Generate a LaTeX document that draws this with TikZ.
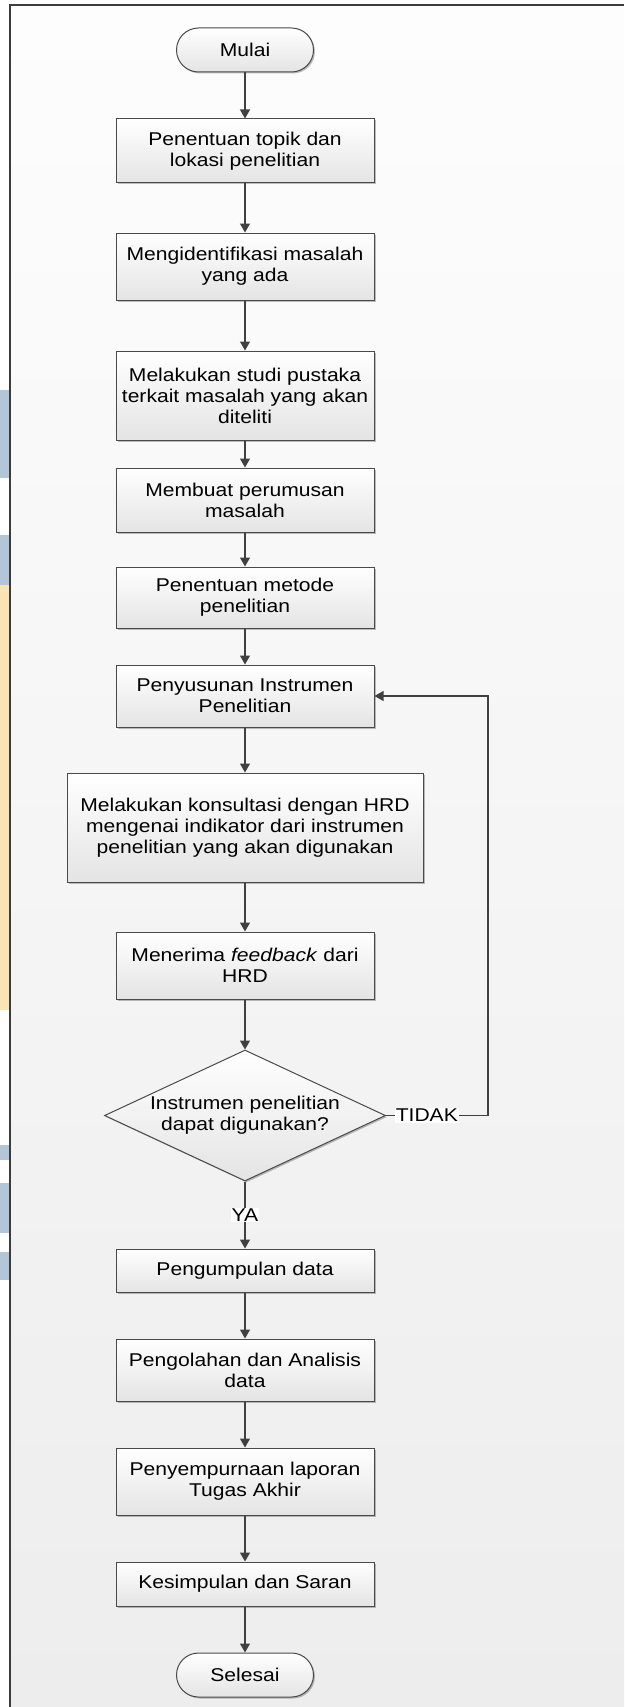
\documentclass[tikz,border=0pt]{standalone}
\usepackage{fontspec}
\setmainfont{Liberation Sans}[FakeStretch=1.14]
\usetikzlibrary{arrows.meta,shapes.geometric,shadows}
\definecolor{linec}{HTML}{404040}
\definecolor{boxline}{HTML}{4A4A4A}
\definecolor{boxbot}{HTML}{E4E4E4}
\definecolor{bgtop}{HTML}{FDFDFD}
\definecolor{bgbot}{HTML}{EDEDED}
\definecolor{framec}{HTML}{3C3C3C}
\definecolor{wmblue}{HTML}{B3C6D8}
\definecolor{wmyellow}{HTML}{FBE4B4}
\begin{document}
\begin{tikzpicture}[x=1pt,y=-1pt,
  every node/.style={font=\fontsize{18.5}{21}\selectfont},
  shadowed/.style={drop shadow={shadow xshift=1.5pt,shadow yshift=-1.5pt,opacity=0.25,fill=black}},
  box/.style={draw=boxline, line width=1pt, top color=white, bottom color=boxbot,
    minimum width=258pt, align=center, inner xsep=2pt, inner ysep=2pt, shadowed},
  term/.style={box, rounded corners=22pt, minimum width=137pt, minimum height=44pt},
  dec/.style={diamond, draw=boxline, line width=1pt, top color=white, bottom color=boxbot,
    minimum width=281pt, minimum height=131pt, inner sep=0pt, shadowed},
  arr/.style={draw=linec, line width=1.2pt, -{Triangle[length=9pt,width=10pt]}},
  lbl/.style={fill=white, inner sep=1pt}
]
\useasboundingbox (0,0) rectangle (624,1707);
% page background
\fill[white] (0,0) rectangle (624,1707);
\fill[top color=bgtop, bottom color=bgbot] (10,5) rectangle (624,1707);
% faint watermark strips at the left edge
\fill[wmblue] (0,390) rectangle (9,478);
\fill[wmblue] (0,535) rectangle (9,585);
\fill[wmyellow] (0,585) rectangle (9,1010);
\fill[wmblue] (0,1145) rectangle (9,1160);
\fill[wmblue] (0,1183) rectangle (9,1233);
\fill[wmblue] (0,1252) rectangle (9,1280);
% frame
\draw[framec, line width=2pt] (10,1707) -- (10,5) -- (624,5);

% nodes
\node[term] (start) at (245,50) {Mulai};
\node[box, minimum height=64pt] (b1) at (245,151) {Penentuan topik dan\\lokasi penelitian};
\node[box, minimum height=67pt] (b2) at (245,266.5) {Mengidentifikasi masalah\\yang ada};
\node[box, minimum height=89pt] (b3) at (245,395.5) {Melakukan studi pustaka\\terkait masalah yang akan\\diteliti};
\node[box, minimum height=64pt] (b4) at (245,500) {Membuat perumusan\\masalah};
\node[box, minimum height=61pt] (b5) at (245,597.5) {Penentuan metode\\penelitian};
\node[box, minimum height=62pt] (b6) at (245,696) {Penyusunan Instrumen\\Penelitian};
\node[box, minimum width=356pt, minimum height=109pt] (b7) at (245,827.5) {Melakukan konsultasi dengan HRD\\mengenai indikator dari instrumen\\penelitian yang akan digunakan};
\node[box, minimum height=67pt] (b8) at (245,965.5) {Menerima \textit{feedback} dari\\HRD};
\node[dec] (d) at (245,1115.5) {\smash{\raisebox{-4.6pt}{\makebox[0pt]{\begin{tabular}{@{}c@{}}Instrumen penelitian\\dapat digunakan?\end{tabular}}}}};
\node[box, minimum height=43pt] (b9) at (245,1270.5) {Pengumpulan data};
\node[box, minimum height=62pt] (b10) at (245,1370) {Pengolahan dan Analisis\\data};
\node[box, minimum height=67pt] (b11) at (245,1481.5) {Penyempurnaan laporan\\Tugas Akhir};
\node[box, minimum height=44pt] (b12) at (245,1584) {Kesimpulan dan Saran};
\node[term] (end) at (245,1675) {Selesai};

\coordinate (loop) at (488,1115.5);

% connectors
\draw[arr] (start) -- (b1);
\draw[arr] (b1) -- (b2);
\draw[arr] (b2) -- (b3);
\draw[arr] (b3) -- (b4);
\draw[arr] (b4) -- (b5);
\draw[arr] (b5) -- (b6);
\draw[arr] (b6) -- (b7);
\draw[arr] (b7) -- (b8);
\draw[arr] (b8) -- (d);
\draw[arr] (d) -- node[lbl] {YA} (b9);
\draw[arr] (b9) -- (b10);
\draw[arr] (b10) -- (b11);
\draw[arr] (b11) -- (b12);
\draw[arr] (b12) -- (end);
\draw[arr] (d.east) -- node[lbl, pos=0.4] {TIDAK} (loop) |- (b6.east);
\end{tikzpicture}
\end{document}
